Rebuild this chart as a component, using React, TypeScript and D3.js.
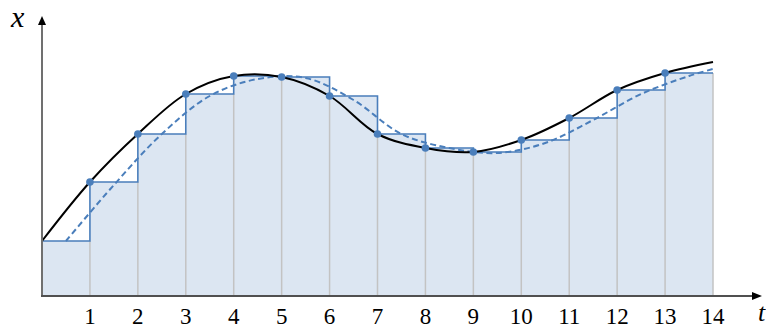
import React from "react";
import * as d3 from "d3";

// sample times and sampled values (black curve passes through these)
const sampleT = [0, 1, 2, 3, 4, 5, 6, 7, 8, 9, 10, 11, 12, 13, 14];
const sampleV = [1.1, 2.28, 3.24, 4.04, 4.4, 4.38, 4.0, 3.24, 2.96, 2.88, 3.12, 3.56, 4.12, 4.46, 4.68];
// delayed (dashed) reconstruction
const dashedT = [0.5, 1.5, 2.5, 3.5, 4.5, 5.5, 6.5, 7.5, 8.5, 9.5, 10.5, 11.5, 12.5, 13.5, 14];
const dashedV = [1.1, 2.22, 3.24, 4.0, 4.34, 4.36, 3.92, 3.24, 2.96, 2.86, 3.06, 3.52, 4.04, 4.4, 4.54];
// dots shown at these sample indices
const dotT = [1, 2, 3, 4, 5, 6, 7, 8, 9, 10, 11, 12, 13];
const tickLabels = ["1", "2", "3", "4", "5", "6", "7", "8", "9", "10", "11", "12", "13", "14"];

const W = 766;
const H = 328;
const BLUE = "#4a7ebb";
const SERIF = "Liberation Serif, Times New Roman, Times, DejaVu Serif, serif";

export default function App() {
  const x = d3.scaleLinear().domain([0, 14]).range([42, 713]);
  const y = d3.scaleLinear().domain([0, 1]).range([296, 246]);
  const base = y(0);

  const stepPts: [number, number][] = sampleT.slice(0, 14).map((t, i) => [t, sampleV[i]]);
  stepPts.push([14, sampleV[13]]);

  const area = d3
    .area<[number, number]>()
    .x((d) => x(d[0]))
    .y0(base)
    .y1((d) => y(d[1]))
    .curve(d3.curveStepAfter);
  const stepLine = d3
    .line<[number, number]>()
    .x((d) => x(d[0]))
    .y((d) => y(d[1]))
    .curve(d3.curveStepAfter);

  const blackPts: [number, number][] = sampleT.map((t, i) => [t, sampleV[i]]);
  const dashPts: [number, number][] = dashedT.map((t, i) => [t, dashedV[i]]);
  const smooth = d3
    .line<[number, number]>()
    .x((d) => x(d[0]))
    .y((d) => y(d[1]))
    .curve(d3.curveCatmullRom.alpha(0.5));

  const grayLines = d3.range(1, 15).map((k) => {
    const left = sampleV[k - 1];
    const right = k < 14 ? sampleV[k] : left;
    return { k, top: y(Math.min(left, right)) };
  });

  const serifStyle: React.CSSProperties = { fontFamily: SERIF };

  return (
    <svg
      width={W}
      height={H}
      style={{ position: "absolute", left: 0, top: 0, background: "#fff" }}
    >
      <path d={area(stepPts) || ""} fill="#dce6f2" stroke="none" />
      {grayLines.map((g) => (
        <line
          key={g.k}
          x1={x(g.k)}
          x2={x(g.k)}
          y1={base}
          y2={g.top}
          stroke="#c3c3c3"
          strokeWidth={1.5}
        />
      ))}
      <path d={stepLine(stepPts) || ""} fill="none" stroke={BLUE} strokeWidth={1.6} />
      <path
        d={smooth(dashPts) || ""}
        fill="none"
        stroke={BLUE}
        strokeWidth={2}
        strokeDasharray="6,3.5"
      />
      <path d={smooth(blackPts) || ""} fill="none" stroke="#000" strokeWidth={2} />
      {dotT.map((t) => (
        <circle key={t} cx={x(t)} cy={y(sampleV[t])} r={3.8} fill={BLUE} />
      ))}

      {/* axes */}
      <line x1={42} x2={42} y1={base} y2={22} stroke="#707070" strokeWidth={2} />
      <path d="M42,16 L38,25 L46,25 Z" fill="#000" />
      <line x1={41} x2={754} y1={base} y2={base} stroke="#505050" strokeWidth={2} />
      <path d={`M762,${base} L752,${base - 4} L752,${base + 4} Z`} fill="#000" />

      {tickLabels.map((lab, i) => (
        <text
          key={lab}
          x={x(i + 1)}
          y={324}
          textAnchor="middle"
          style={{ ...serifStyle, fontSize: "23px" }}
          fill="#000"
        >
          {lab}
        </text>
      ))}
      <text
        x={11}
        y={27}
        style={{ ...serifStyle, fontStyle: "italic", fontSize: "30px" }}
        fill="#000"
      >
        x
      </text>
      <text
        x={758}
        y={321}
        style={{ ...serifStyle, fontStyle: "italic", fontSize: "26px" }}
        fill="#000"
      >
        t
      </text>
    </svg>
  );
}
